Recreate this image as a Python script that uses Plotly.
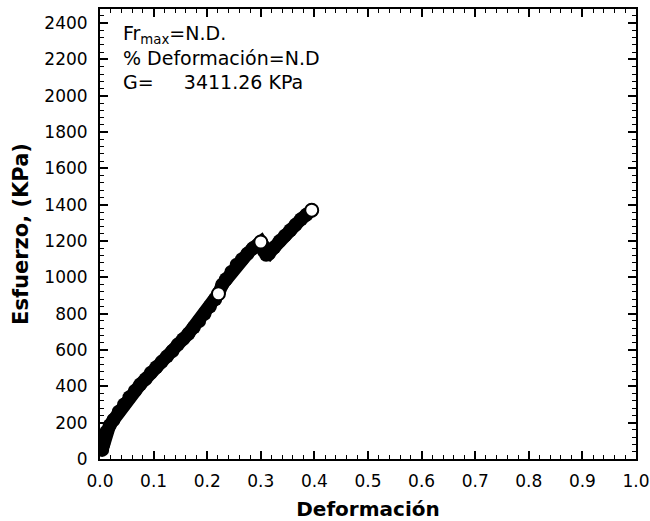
import plotly.graph_objects as go

# Data (Deformación vs Esfuerzo, KPa)
deformacion = [0.004, 0.006, 0.008, 0.012, 0.018, 0.025, 0.035, 0.045, 0.055, 0.065,
               0.075, 0.085, 0.095, 0.105, 0.115, 0.125, 0.135, 0.145, 0.155, 0.165,
               0.175, 0.185, 0.195, 0.205, 0.215, 0.221, 0.228, 0.235, 0.245, 0.255,
               0.265, 0.275, 0.285, 0.295, 0.300, 0.303, 0.306, 0.310, 0.315, 0.325,
               0.335, 0.345, 0.355, 0.365, 0.375, 0.385, 0.395]
esfuerzo = [50, 80, 115, 150, 185, 215, 260, 300, 340, 375,
            410, 440, 475, 505, 535, 565, 595, 630, 660, 690,
            725, 760, 800, 840, 880, 910, 960, 990, 1030, 1070,
            1100, 1130, 1160, 1180, 1195, 1180, 1145, 1125, 1130, 1165,
            1200, 1230, 1260, 1290, 1320, 1345, 1370]

# Points shown as open circles in the reference
open_x = [0.221, 0.300, 0.395]
open_y = [910, 1195, 1370]

x_ticks = [0.0, 0.1, 0.2, 0.3, 0.4, 0.5, 0.6, 0.7, 0.8, 0.9, 1.0]
x_labels = ["0.0", "0.1", "0.2", "0.3", "0.4", "0.5", "0.6", "0.7", "0.8", "0.9", "1.0"]
y_ticks = list(range(0, 2401, 200))

FONT = "DejaVu Sans, Liberation Sans, sans-serif"

fig = go.Figure()
fig.add_trace(go.Scatter(
    x=deformacion, y=esfuerzo, mode="lines+markers",
    line=dict(color="black", width=13),
    marker=dict(symbol="circle", size=14, color="black"),
    showlegend=False, hoverinfo="x+y"))
fig.add_trace(go.Scatter(
    x=open_x, y=open_y, mode="markers",
    marker=dict(symbol="circle", size=13, color="white",
                line=dict(color="black", width=2)),
    showlegend=False))

axis_common = dict(
    showgrid=False, zeroline=False, showline=True, linecolor="black", linewidth=2,
    mirror="ticks", ticks="inside", ticklen=8, tickwidth=1.5, tickcolor="black",
    tickfont=dict(family=FONT, size=17, color="black"),
)

fig.update_xaxes(
    range=[0, 1.0], tickvals=x_ticks, ticktext=x_labels, ticklabelstandoff=6,
    minor=dict(ticks="inside", ticklen=4, tickwidth=1, tickcolor="black", dtick=0.02, tick0=0),
    title=dict(text="<b>Deformación</b>", font=dict(family=FONT, size=20, color="black"), standoff=12),
    **axis_common)
fig.update_yaxes(
    range=[0, 2478], tickvals=y_ticks, ticklabelstandoff=7,
    minor=dict(ticks="inside", ticklen=4, tickwidth=1, tickcolor="black", dtick=40, tick0=0),
    title=dict(text="<b>Esfuerzo, (KPa)</b>", font=dict(family=FONT, size=21, color="black"), standoff=10),
    **axis_common)

fig.add_annotation(
    xref="paper", yref="paper", x=0.04, y=0.975, xanchor="left", yanchor="top",
    align="left", showarrow=False,
    text="Fr<sub>max</sub>=N.D.<br>% Deformación=N.D<br>G=&nbsp;&nbsp;&nbsp;&nbsp;&nbsp;3411.26 KPa",
    font=dict(family=FONT, size=19, color="black"))

fig.update_layout(
    width=650, height=521,
    margin=dict(l=100, r=14, t=9, b=62, autoexpand=False),
    paper_bgcolor="white", plot_bgcolor="white",
    font=dict(family=FONT, color="black"),
)

fig.write_html("out.html", config={"displayModeBar": False},
               post_script="document.body.style.margin='0px';document.body.style.overflow='hidden';")
